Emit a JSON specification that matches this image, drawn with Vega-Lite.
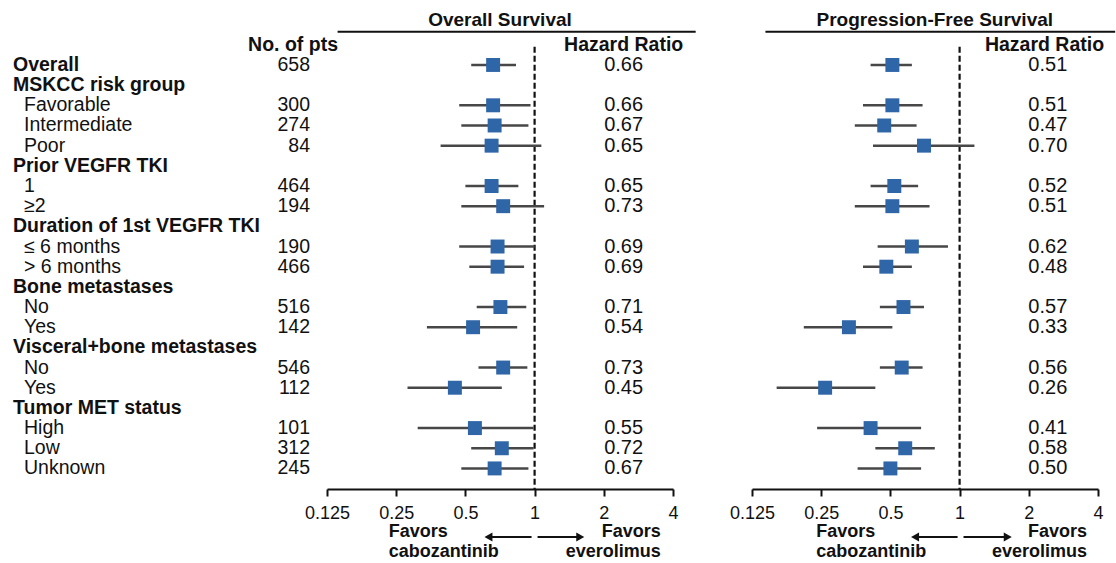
{
  "$schema": "https://vega.github.io/schema/vega-lite/v6.json",
  "padding": 0,
  "background": "white",
  "config": {
    "view": {"stroke": null},
    "font": "Liberation Sans",
    "text": {"font": "Liberation Sans", "fontSize": 19.5, "color": "#111111"}
  },
  "datasets": {
    "subgroups": [
      {"row": 1, "label": "Overall", "level": 0, "n": 658, "os": 0.66, "os_lo": 0.53, "os_hi": 0.83, "pfs": 0.51, "pfs_lo": 0.41, "pfs_hi": 0.62},
      {"row": 2, "label": "MSKCC risk group", "level": 0},
      {"row": 3, "label": "Favorable", "level": 1, "n": 300, "os": 0.66, "os_lo": 0.47, "os_hi": 0.96, "pfs": 0.51, "pfs_lo": 0.38, "pfs_hi": 0.69},
      {"row": 4, "label": "Intermediate", "level": 1, "n": 274, "os": 0.67, "os_lo": 0.48, "os_hi": 0.94, "pfs": 0.47, "pfs_lo": 0.35, "pfs_hi": 0.65},
      {"row": 5, "label": "Poor", "level": 1, "n": 84, "os": 0.65, "os_lo": 0.39, "os_hi": 1.07, "pfs": 0.70, "pfs_lo": 0.42, "pfs_hi": 1.16},
      {"row": 6, "label": "Prior VEGFR TKI", "level": 0},
      {"row": 7, "label": "1", "level": 1, "n": 464, "os": 0.65, "os_lo": 0.50, "os_hi": 0.85, "pfs": 0.52, "pfs_lo": 0.41, "pfs_hi": 0.66},
      {"row": 8, "label": "≥2", "level": 1, "n": 194, "os": 0.73, "os_lo": 0.48, "os_hi": 1.10, "pfs": 0.51, "pfs_lo": 0.35, "pfs_hi": 0.74},
      {"row": 9, "label": "Duration of 1st VEGFR TKI", "level": 0},
      {"row": 10, "label": "≤ 6 months", "level": 1, "n": 190, "os": 0.69, "os_lo": 0.47, "os_hi": 1.00, "pfs": 0.62, "pfs_lo": 0.44, "pfs_hi": 0.89},
      {"row": 11, "label": "> 6 months", "level": 1, "n": 466, "os": 0.69, "os_lo": 0.52, "os_hi": 0.90, "pfs": 0.48, "pfs_lo": 0.38, "pfs_hi": 0.62},
      {"row": 12, "label": "Bone metastases", "level": 0},
      {"row": 13, "label": "No", "level": 1, "n": 516, "os": 0.71, "os_lo": 0.56, "os_hi": 0.92, "pfs": 0.57, "pfs_lo": 0.45, "pfs_hi": 0.70},
      {"row": 14, "label": "Yes", "level": 1, "n": 142, "os": 0.54, "os_lo": 0.34, "os_hi": 0.84, "pfs": 0.33, "pfs_lo": 0.21, "pfs_hi": 0.51},
      {"row": 15, "label": "Visceral+bone metastases", "level": 0},
      {"row": 16, "label": "No", "level": 1, "n": 546, "os": 0.73, "os_lo": 0.57, "os_hi": 0.93, "pfs": 0.56, "pfs_lo": 0.45, "pfs_hi": 0.69},
      {"row": 17, "label": "Yes", "level": 1, "n": 112, "os": 0.45, "os_lo": 0.28, "os_hi": 0.72, "pfs": 0.26, "pfs_lo": 0.16, "pfs_hi": 0.43},
      {"row": 18, "label": "Tumor MET status", "level": 0},
      {"row": 19, "label": "High", "level": 1, "n": 101, "os": 0.55, "os_lo": 0.31, "os_hi": 0.99, "pfs": 0.41, "pfs_lo": 0.24, "pfs_hi": 0.68},
      {"row": 20, "label": "Low", "level": 1, "n": 312, "os": 0.72, "os_lo": 0.53, "os_hi": 0.99, "pfs": 0.58, "pfs_lo": 0.43, "pfs_hi": 0.78},
      {"row": 21, "label": "Unknown", "level": 1, "n": 245, "os": 0.67, "os_lo": 0.48, "os_hi": 0.94, "pfs": 0.50, "pfs_lo": 0.36, "pfs_hi": 0.68}
    ]
  },
  "bounds": "flush",
  "spacing": 79,
  "resolve": {"scale": {"x": "independent", "y": "independent"}},
  "hconcat": [
    {
      "width": 248,
      "height": 489,
      "data": {"name": "subgroups"},
      "layer": [
        {
          "transform": [{"filter": "datum.level == 0"}],
          "mark": {"type": "text", "align": "left", "baseline": "middle", "fontWeight": "bold"},
          "encoding": {
            "x": {"datum": "label", "type": "nominal", "axis": null,
                  "scale": {"type": "point", "domain": ["label", "pts"], "range": [13, 310], "padding": 0}},
            "y": {"field": "row", "type": "quantitative", "axis": null,
                  "scale": {"domain": [-2.22, 22.02], "reverse": true, "nice": false, "zero": false}},
            "text": {"field": "label"}
          }
        },
        {
          "transform": [{"filter": "datum.level == 1"}],
          "mark": {"type": "text", "align": "left", "baseline": "middle", "dx": 11},
          "encoding": {
            "x": {"datum": "label", "type": "nominal"},
            "y": {"field": "row", "type": "quantitative"},
            "text": {"field": "label"}
          }
        },
        {
          "transform": [{"filter": "isValid(datum.n)"}],
          "mark": {"type": "text", "align": "right", "baseline": "middle"},
          "encoding": {
            "x": {"datum": "pts", "type": "nominal"},
            "y": {"field": "row", "type": "quantitative"},
            "text": {"field": "n"}
          }
        },
        {
          "transform": [{"filter": "datum.row == 1"}],
          "mark": {"type": "text", "align": "right", "baseline": "middle", "fontWeight": "bold", "text": "No. of pts", "dx": 28},
          "encoding": {
            "x": {"datum": "pts", "type": "nominal"},
            "y": {"datum": 0, "type": "quantitative"}
          }
        }
      ]
    },
    {
      "width": 346,
      "height": 489,
      "data": {"name": "subgroups"},
      "layer": [
        {
          "transform": [{"filter": "datum.row == 1"}],
          "mark": {"type": "rule", "color": "#111111", "strokeWidth": 2.2, "strokeDash": [6, 3]},
          "encoding": {
            "x": {"datum": 1, "type": "quantitative",
                  "scale": {"type": "log", "base": 2, "domain": [0.125, 4], "nice": false},
                  "axis": {"values": [0.125, 0.25, 0.5, 1, 2, 4], "format": "~g", "title": null, "grid": false,
                           "domainColor": "#111111", "domainWidth": 2, "tickColor": "#111111", "tickWidth": 2, "tickSize": 7,
                           "labelFontSize": 18, "labelColor": "#111111", "labelPadding": 8, "labelFont": "Liberation Sans", "labelFlush": false}},
            "y": {"datum": 0.1, "type": "quantitative", "axis": null,
                  "scale": {"domain": [-2.22, 22.02], "reverse": true, "nice": false, "zero": false}},
            "y2": {"datum": 22.02}
          }
        },
        {
          "transform": [{"filter": "isValid(datum.os)"}],
          "mark": {"type": "rule", "color": "#474747", "strokeWidth": 2.5},
          "encoding": {
            "x": {"field": "os_lo", "type": "quantitative"},
            "x2": {"field": "os_hi"},
            "y": {"field": "row", "type": "quantitative"}
          }
        },
        {
          "transform": [{"filter": "isValid(datum.os)"}],
          "mark": {"type": "point", "shape": "square", "filled": true, "opacity": 1, "color": "#2F66A8", "size": 195},
          "encoding": {
            "x": {"field": "os", "type": "quantitative"},
            "y": {"field": "row", "type": "quantitative"}
          }
        },
        {
          "transform": [{"filter": "isValid(datum.os)"}],
          "mark": {"type": "text", "align": "center", "baseline": "middle", "fontSize": 20},
          "encoding": {
            "x": {"datum": 2.44, "type": "quantitative"},
            "y": {"field": "row", "type": "quantitative"},
            "text": {"field": "os", "type": "quantitative", "format": ".2f"}
          }
        },
        {
          "transform": [{"filter": "datum.row == 1"}],
          "layer": [
            {
              "mark": {"type": "text", "align": "center", "baseline": "middle", "fontWeight": "bold", "fontSize": 19.5, "text": "Hazard Ratio"},
              "encoding": {"x": {"datum": 2.44, "type": "quantitative"}, "y": {"datum": 0, "type": "quantitative"}}
            },
            {
              "mark": {"type": "text", "align": "center", "baseline": "middle", "fontWeight": "bold", "fontSize": 19, "text": "Overall Survival"},
              "encoding": {"x": {"datum": 0.707, "type": "quantitative"}, "y": {"datum": -1.23, "type": "quantitative"}}
            },
            {
              "mark": {"type": "rule", "color": "#111111", "strokeWidth": 2},
              "encoding": {"x": {"datum": 0.139, "type": "quantitative"}, "x2": {"datum": 5.02}, "y": {"datum": -0.64, "type": "quantitative"}}
            },
            {
              "mark": {"type": "rule", "color": "#111111", "strokeWidth": 2},
              "encoding": {"x": {"datum": 0.63, "type": "quantitative"}, "x2": {"datum": 0.97}, "y": {"datum": 24.4, "type": "quantitative"}}
            },
            {
              "mark": {"type": "rule", "color": "#111111", "strokeWidth": 2},
              "encoding": {"x": {"datum": 1.03, "type": "quantitative"}, "x2": {"datum": 1.58}, "y": {"datum": 24.4, "type": "quantitative"}}
            },
            {
              "mark": {"type": "point", "shape": "triangle-left", "filled": true, "opacity": 1, "color": "#111111", "size": 85},
              "encoding": {"x": {"datum": 0.63, "type": "quantitative"}, "y": {"datum": 24.4, "type": "quantitative"}}
            },
            {
              "mark": {"type": "point", "shape": "triangle-right", "filled": true, "opacity": 1, "color": "#111111", "size": 85},
              "encoding": {"x": {"datum": 1.58, "type": "quantitative"}, "y": {"datum": 24.4, "type": "quantitative"}}
            },
            {
              "mark": {"type": "text", "align": "left", "baseline": "middle", "fontWeight": "bold", "fontSize": 18, "lineHeight": 20, "lineBreak": "\n", "text": "Favors\ncabozantinib"},
              "encoding": {"x": {"datum": 0.232, "type": "quantitative"}, "y": {"datum": 24.15, "type": "quantitative"}}
            },
            {
              "mark": {"type": "text", "align": "right", "baseline": "middle", "fontWeight": "bold", "fontSize": 18, "lineHeight": 20, "lineBreak": "\n", "text": "Favors\neverolimus"},
              "encoding": {"x": {"datum": 3.54, "type": "quantitative"}, "y": {"datum": 24.15, "type": "quantitative"}}
            }
          ]
        }
      ]
    },
    {
      "width": 346,
      "height": 489,
      "data": {"name": "subgroups"},
      "layer": [
        {
          "transform": [{"filter": "datum.row == 1"}],
          "mark": {"type": "rule", "color": "#111111", "strokeWidth": 2.2, "strokeDash": [6, 3]},
          "encoding": {
            "x": {"datum": 1, "type": "quantitative",
                  "scale": {"type": "log", "base": 2, "domain": [0.125, 4], "nice": false},
                  "axis": {"values": [0.125, 0.25, 0.5, 1, 2, 4], "format": "~g", "title": null, "grid": false,
                           "domainColor": "#111111", "domainWidth": 2, "tickColor": "#111111", "tickWidth": 2, "tickSize": 7,
                           "labelFontSize": 18, "labelColor": "#111111", "labelPadding": 8, "labelFont": "Liberation Sans", "labelFlush": false}},
            "y": {"datum": 0.1, "type": "quantitative", "axis": null,
                  "scale": {"domain": [-2.22, 22.02], "reverse": true, "nice": false, "zero": false}},
            "y2": {"datum": 22.02}
          }
        },
        {
          "transform": [{"filter": "isValid(datum.pfs)"}],
          "mark": {"type": "rule", "color": "#474747", "strokeWidth": 2.5},
          "encoding": {
            "x": {"field": "pfs_lo", "type": "quantitative"},
            "x2": {"field": "pfs_hi"},
            "y": {"field": "row", "type": "quantitative"}
          }
        },
        {
          "transform": [{"filter": "isValid(datum.pfs)"}],
          "mark": {"type": "point", "shape": "square", "filled": true, "opacity": 1, "color": "#2F66A8", "size": 195},
          "encoding": {
            "x": {"field": "pfs", "type": "quantitative"},
            "y": {"field": "row", "type": "quantitative"}
          }
        },
        {
          "transform": [{"filter": "isValid(datum.pfs)"}],
          "mark": {"type": "text", "align": "center", "baseline": "middle", "fontSize": 20},
          "encoding": {
            "x": {"datum": 2.42, "type": "quantitative"},
            "y": {"field": "row", "type": "quantitative"},
            "text": {"field": "pfs", "type": "quantitative", "format": ".2f"}
          }
        },
        {
          "transform": [{"filter": "datum.row == 1"}],
          "layer": [
            {
              "mark": {"type": "text", "align": "center", "baseline": "middle", "fontWeight": "bold", "fontSize": 19.5, "text": "Hazard Ratio"},
              "encoding": {"x": {"datum": 2.34, "type": "quantitative"}, "y": {"datum": 0, "type": "quantitative"}}
            },
            {
              "mark": {"type": "text", "align": "center", "baseline": "middle", "fontWeight": "bold", "fontSize": 19, "text": "Progression-Free Survival"},
              "encoding": {"x": {"datum": 0.78, "type": "quantitative"}, "y": {"datum": -1.23, "type": "quantitative"}}
            },
            {
              "mark": {"type": "rule", "color": "#111111", "strokeWidth": 2},
              "encoding": {"x": {"datum": 0.143, "type": "quantitative"}, "x2": {"datum": 4.75}, "y": {"datum": -0.64, "type": "quantitative"}}
            },
            {
              "mark": {"type": "rule", "color": "#111111", "strokeWidth": 2},
              "encoding": {"x": {"datum": 0.64, "type": "quantitative"}, "x2": {"datum": 0.98}, "y": {"datum": 24.4, "type": "quantitative"}}
            },
            {
              "mark": {"type": "rule", "color": "#111111", "strokeWidth": 2},
              "encoding": {"x": {"datum": 1.04, "type": "quantitative"}, "x2": {"datum": 1.62}, "y": {"datum": 24.4, "type": "quantitative"}}
            },
            {
              "mark": {"type": "point", "shape": "triangle-left", "filled": true, "opacity": 1, "color": "#111111", "size": 85},
              "encoding": {"x": {"datum": 0.64, "type": "quantitative"}, "y": {"datum": 24.4, "type": "quantitative"}}
            },
            {
              "mark": {"type": "point", "shape": "triangle-right", "filled": true, "opacity": 1, "color": "#111111", "size": 85},
              "encoding": {"x": {"datum": 1.62, "type": "quantitative"}, "y": {"datum": 24.4, "type": "quantitative"}}
            },
            {
              "mark": {"type": "text", "align": "left", "baseline": "middle", "fontWeight": "bold", "fontSize": 18, "lineHeight": 20, "lineBreak": "\n", "text": "Favors\ncabozantinib"},
              "encoding": {"x": {"datum": 0.238, "type": "quantitative"}, "y": {"datum": 24.15, "type": "quantitative"}}
            },
            {
              "mark": {"type": "text", "align": "right", "baseline": "middle", "fontWeight": "bold", "fontSize": 18, "lineHeight": 20, "lineBreak": "\n", "text": "Favors\neverolimus"},
              "encoding": {"x": {"datum": 3.58, "type": "quantitative"}, "y": {"datum": 24.15, "type": "quantitative"}}
            }
          ]
        }
      ]
    }
  ]
}
